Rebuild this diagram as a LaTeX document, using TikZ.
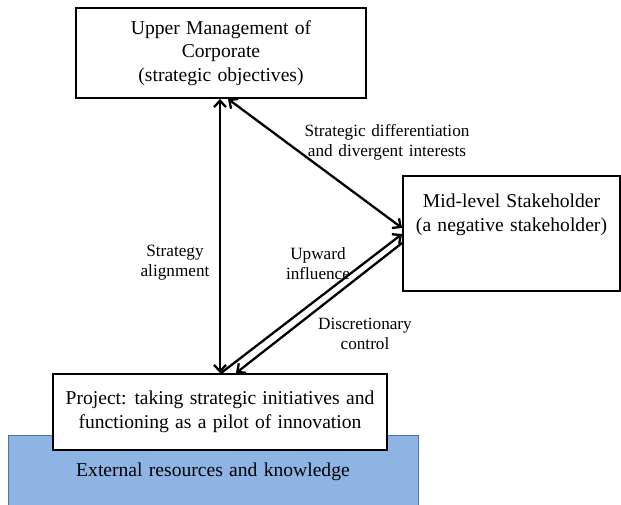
\documentclass[tikz,border=0pt]{standalone}
\usepackage{fontspec}
\setmainfont{Liberation Serif}
\usetikzlibrary{arrows.meta}
\definecolor{bluefill}{RGB}{142,180,227}
\definecolor{blueborder}{RGB}{84,112,160}
\newcommand{\mainsz}{\fontsize{19.6}{23.5}\selectfont\spaceskip=0.32em plus 0.1em}
\newcommand{\lblsz}{\fontsize{17.2}{20}\selectfont\spaceskip=0.33em plus 0.1em}
\begin{document}
\begin{tikzpicture}[x=1pt,y=-1pt,
  box/.style={draw, line width=1.9pt, fill=white, inner sep=0pt, align=center, font=\mainsz},
  txt/.style={inner sep=0pt, align=center, font=\mainsz},
  lbl/.style={inner sep=0pt, align=center, font=\lblsz},
  conn/.style={line width=2.3pt},
  >={Straight Barb[length=6.5pt,width=12pt]}]
\useasboundingbox (0,0) rectangle (621,504);
% external resources
\node[draw=blueborder, fill=bluefill, line width=1.2pt, minimum width=410pt, minimum height=74pt, anchor=north west, inner sep=0pt] (ext) at (8,435) {};
\node[txt] (exttxt) at (213,472) {External resources and knowledge};
% boxes
\node[box, minimum width=290pt, minimum height=90pt] (top) at (221,53) {Upper Management of\\Corporate\\(strategic objectives)};
\node[box, minimum width=217pt, minimum height=115pt] (mid) at (511.5,233.5) {};
\node[txt] (midtxt) at (511.5,215) {Mid-level Stakeholder\\(a negative stakeholder)};
\node[box, minimum width=334pt, minimum height=76pt] (proj) at (220,412) {Project: taking strategic initiatives and\\functioning as a pilot of innovation};
% connectors
\draw[conn,<->] ([xshift=-1pt]top.south) -- (proj.north);
\draw[conn,<->] ([xshift=7pt]top.south) -- ([yshift=5.5pt]mid.west);
\draw[conn,->] ([xshift=1pt]proj.north) -- ([yshift=-0.5pt]mid.west);
\draw[conn,->] ([yshift=-9.5pt]mid.west) -- ([xshift=16pt]proj.north);
% labels
\node[lbl] (l1) at (387,142) {Strategic differentiation\\and divergent interests};
\node[lbl] (l2) at (175,263) {Strategy\\alignment};
\node[lbl] (l3) at (318,264) {Upward\\influence};
\node[lbl] (l4) at (365,334) {Discretionary\\control};
\end{tikzpicture}
\end{document}
